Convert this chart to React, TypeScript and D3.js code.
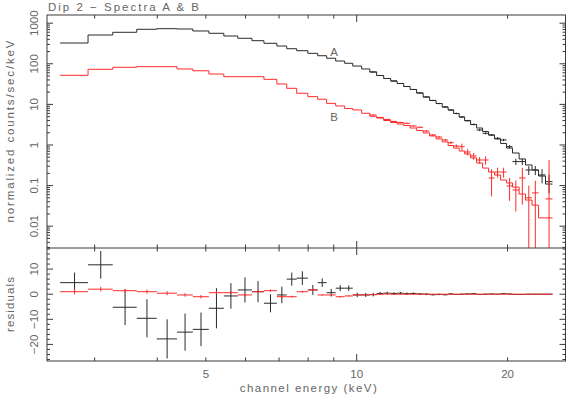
import React, { useEffect, useRef } from "react";
import * as d3 from "d3";

// channel bin edges (keV)
const binEdges = [
  2.56, 2.91, 3.26, 3.64, 3.99, 4.38, 4.71, 5.07, 5.43, 5.79, 6.18, 6.53, 6.93,
  7.25, 7.59, 7.99, 8.36, 8.71, 9.08, 9.46, 9.82, 10.23, 10.62, 10.96, 11.32,
  11.69, 12.04, 12.41, 12.78, 13.17, 13.57, 13.98, 14.4, 14.81, 15.22, 15.61,
  16.01, 16.42, 16.88, 17.35, 17.83, 18.33, 18.84, 19.37, 19.91, 20.46, 21.09,
  21.72, 22.38, 23.06, 23.81, 24.59,
];

// folded model, counts/sec/keV
const modelA = [
  325, 512, 597, 708, 732, 720, 643, 564, 484, 425, 371, 320, 274, 235, 210,
  181, 158, 137, 117, 103, 88, 74.5, 62.8, 51.5, 43.4, 37.7, 32.7, 27.6, 23.3,
  19.1, 15.2, 12.5, 10.5, 8.63, 7.28, 5.97, 4.89, 3.97, 3.2, 2.62, 2.15, 1.76,
  1.41, 1.09, 0.84, 0.635, 0.452, 0.322, 0.242, 0.172, 0.109,
];
const modelB = [
  52.1, 73.2, 82.0, 84.9, 84.9, 74.5, 67.3, 56.0, 48.1, 48.1, 48.1, 41.5, 31.8,
  24.9, 18.8, 15.5, 13.4, 10.6, 9.14, 7.9, 7.3, 6.04, 5.1, 4.62, 4.01, 3.58,
  3.29, 3.02, 2.62, 2.28, 1.98, 1.67, 1.41, 1.19, 0.97, 0.84, 0.71, 0.6, 0.48,
  0.36, 0.27, 0.216, 0.182, 0.137, 0.116, 0.092, 0.062, 0.044, 0.033, 0.016,
  0.016,
];

// data points drawn in the upper panel, from bin 23 on (null = none)
const dataFirstBin = 22;
const dataA = [
  62.8, 51.5, 43.4, 37.7, 32.7, 27.6, 23.3, 19.1, 15.2, 12.5, 10.5, 8.63, 7.28,
  5.97, 4.89, 3.97, 3.2, 2.34, 1.94, 1.76, 1.46, 1.33, 0.908, 0.39, 0.39, 0.242,
  0.242, 0.183, 0.125,
];
const dataAErr = [
  1.5, 1.3, 1.1, 1.0, 0.9, 0.8, 0.7, 0.6, 0.5, 0.45, 0.4, 0.35, 0.3, 0.26, 0.22,
  0.18, 0.16, 0.14, 0.12, 0.1, 0.1, 0.09, 0.09, 0.07, 0.07, 0.06, 0.06, 0.07,
  0.06,
];
const dataB = [
  5.48, 4.76, 4.25, 3.79, 3.58, 3.42, 2.94, 2.73, 2.21, 1.76, 1.57, 1.33, 1.14,
  0.945, 0.908, 0.672, 0.536, 0.427, 0.427, 0.154, 0.216, 0.216, 0.098, 0.078,
  0.154, 0.05, 0.066, null, 0.047,
];
const dataBErr = [
  0.2, 0.18, 0.17, 0.16, 0.15, 0.15, 0.13, 0.13, 0.11, 0.1, 0.1, 0.09, 0.09,
  0.08, 0.17, 0.12, 0.1, 0.08, 0.1, 0.1, 0.06, 0.06, 0.056, 0.055, 0.12, 0.05,
  0.066, null, 0.38,
];

// residuals, counts/sec/keV
const residA = [
  4.6, 11.7, -5.2, -9.6, -17.8, -15.1, -14, -5.6, -0.7, 1.7, 1.0, -3.6, -0.3, 6,
  6.4, 1.7, 4.6, 0.6, 2.4, 2.4, -0.3, -0.3, -0.2, 0.3, 0.4, 0.3, 0.4, 0.2, 0.3,
  0.1, 0, -0.2, -0.1, -0.2, 0.1, -0.1, 0, 0.1, 0.2, -0.1, 0, 0.1, 0, 0.2, 0.1,
  -0.1, -0.1, 0, 0, 0, 0,
];
const residAErr = [
  4, 5.5, 7.1, 7.6, 7.8, 7.4, 6.7, 8, 5.1, 5, 4.2, 3.6, 3.3, 2.6, 2.7, 2, 1.7,
  1.5, 1.2, 1.1, 0.9, 0.8, 0.7, 0.6, 0.6, 0.5, 0.5, 0.5, 0.4, 0.4, 0.4, 0.3,
  0.3, 0.3, 0.3, 0.2, 0.2, 0.2, 0.2, 0.2, 0.2, 0.1, 0.1, 0.1, 0.1, 0.1, 0.1,
  0.1, 0.1, 0.1, 0.1,
];
const residB = [
  1.0, 2.0, 1.4, 1.0, 0.4, -0.3, -1.0, 0.6, 0.6, -0.3, 1.0, 1.4, -1.0, -1.0,
  1.0, 1.7, -0.3, -0.3, -1.0, -0.7, -0.3, -0.2, -0.1, 0, 0.1, 0, 0, 0, 0, 0, 0,
  0, 0, 0, 0, 0, 0, 0, 0, 0, 0, 0, 0, 0, 0, 0, 0, 0, 0, 0, 0,
];
const residBErr = [
  1.0, 0.9, 0.8, 0.8, 0.8, 0.7, 0.7, 0.6, 0.6, 0.6, 0.5, 0.5, 0.5, 0.4, 0.4,
  0.4, 0.3, 0.3, 0.3, 0.3, 0.2, 0.2, 0.2, 0.2, 0.2, 0.1, 0.1, 0.1, 0.1, 0.1,
  0.1, 0.1, 0.1, 0.1, 0.1, 0.1, 0.1, 0.1, 0.1, 0.1, 0.1, 0.1, 0.1, 0.1, 0.1,
  0.1, 0.1, 0.1, 0.1, 0.1, 0.1,
];

const xTicks = [3, 4, 5, 6, 7, 8, 9, 10, 20];
const xMajorTicks = [10];
const xTickLabels = [5, 10, 20];
const yTopTickLabels = [0.01, 0.1, 1, 10, 100, 1000];
const yBotTickLabels = [-20, -10, 0, 10];

const title = "Dip 2 \u2212 Spectra A & B";
const font = "'Liberation Sans', Arial, sans-serif";
const textColor = "#666";
const axisColor = "#3a3a3a";
const colA = "#2a2a2a";
const colB = "#ff2a2a";

export default function App() {
  const ref = useRef<SVGSVGElement>(null);

  useEffect(() => {
    const svg = d3.select(ref.current);
    svg.selectAll("*").remove();

    const left = 47, right = 565.5, top = 15, mid = 248, bottom = 361;

    const x = d3.scaleLog().domain([2.41, 26.1]).range([left, right]);
    const yTop = d3.scaleLog().domain([0.0029, 1592]).range([mid, top]);
    const yBot = d3.scaleLinear().domain([-26.6, 18.4]).range([bottom, mid]);

    const defs = svg.append("defs");
    defs.append("clipPath").attr("id", "clipTop")
      .append("rect").attr("x", left).attr("y", top).attr("width", right - left).attr("height", mid - top);
    defs.append("clipPath").attr("id", "clipBot")
      .append("rect").attr("x", left).attr("y", mid).attr("width", right - left).attr("height", bottom - mid);

    // ---- upper panel: models
    const gTop = svg.append("g").attr("clip-path", "url(#clipTop)");
    const step = d3.line<[number, number]>()
      .x(d => x(d[0]))
      .y(d => yTop(d[1]))
      .curve(d3.curveStepAfter);
    const stepPts = (vals: number[]) =>
      vals.map((v, i) => [binEdges[i], v] as [number, number])
        .concat([[binEdges[vals.length], vals[vals.length - 1]]]);

    gTop.append("path").attr("d", step(stepPts(modelA))).attr("fill", "none")
      .attr("stroke", colA).attr("stroke-width", 1);
    gTop.append("path").attr("d", step(stepPts(modelB))).attr("fill", "none")
      .attr("stroke", colB).attr("stroke-width", 1);

    // crosses helper
    const crosses = (g: any, vals: (number | null)[], errs: (number | null)[], first: number,
      ys: (v: number) => number, color: string, floor: number) => {
      vals.forEach((v, i) => {
        if (v === null) return;
        const e = errs[i] as number;
        const b = first + i;
        const lo = binEdges[b], hi = binEdges[b + 1];
        const c = (lo + hi) / 2;
        g.append("line").attr("x1", x(lo)).attr("x2", x(hi))
          .attr("y1", ys(v)).attr("y2", ys(v))
          .attr("stroke", color).attr("stroke-width", 1);
        g.append("line").attr("x1", x(c)).attr("x2", x(c))
          .attr("y1", ys(v + e)).attr("y2", ys(Math.max(v - e, floor)))
          .attr("stroke", color).attr("stroke-width", 1);
      });
    };

    crosses(gTop, dataA, dataAErr, dataFirstBin, yTop, colA, 0.001);
    crosses(gTop, dataB, dataBErr, dataFirstBin, yTop, colB, 0.001);

    // ---- lower panel: residuals
    const gBot = svg.append("g").attr("clip-path", "url(#clipBot)");
    crosses(gBot, residA, residAErr, 0, yBot, colA, -100);
    crosses(gBot, residB, residBErr, 0, yBot, colB, -100);

    // ---- frames
    const frame = svg.append("g").attr("stroke", axisColor).attr("stroke-width", 1).attr("fill", "none");
    frame.append("rect").attr("x", left).attr("y", top).attr("width", right - left).attr("height", bottom - top);
    frame.append("line").attr("x1", left).attr("x2", right).attr("y1", mid).attr("y2", mid);

    const tick = (x1: number, y1: number, x2: number, y2: number) =>
      frame.append("line").attr("x1", x1).attr("y1", y1).attr("x2", x2).attr("y2", y2);

    // x ticks on all horizontal lines
    xTicks.forEach(t => {
      const len = xMajorTicks.includes(t) ? 7 : 3.5;
      const px = x(t);
      tick(px, top, px, top + len);
      tick(px, mid - len, px, mid);
      tick(px, mid, px, mid + len);
      tick(px, bottom - len, px, bottom);
    });

    // upper y ticks (log)
    for (let d = -3; d <= 3; d++) {
      for (let k = 1; k <= 9; k++) {
        const v = k * Math.pow(10, d);
        const [d0, d1] = yTop.domain();
        if (v < d0 || v > d1) continue;
        const len = k === 1 ? 6 : 3;
        const py = yTop(v);
        tick(left, py, left + len, py);
        tick(right - len, py, right, py);
      }
    }

    // lower y ticks (linear)
    for (let v = -26; v <= 18; v += 2) {
      const len = v % 10 === 0 ? 6 : 3;
      const py = yBot(v);
      tick(left, py, left + len, py);
      tick(right - len, py, right, py);
    }

    // ---- text
    const txt = svg.append("g").attr("fill", textColor).attr("font-family", font).attr("font-size", 11.5);

    xTickLabels.forEach(t => {
      txt.append("text").attr("x", x(t)).attr("y", 377.5).attr("text-anchor", "middle").text(t);
    });
    yTopTickLabels.forEach(t => {
      txt.append("text").attr("transform", `translate(37.5,${yTop(t)}) rotate(-90)`)
        .attr("text-anchor", "middle").text(t);
    });
    yBotTickLabels.forEach(t => {
      txt.append("text").attr("transform", `translate(37.5,${yBot(t)}) rotate(-90)`)
        .attr("text-anchor", "middle").text(t < 0 ? `\u2212${-t}` : `${t}`);
    });

    txt.append("text").attr("x", 48).attr("y", 10.5)
      .attr("textLength", 151).attr("lengthAdjust", "spacing").text(title);
    txt.append("text").attr("x", (left + right) / 2 + 2).attr("y", 392).attr("text-anchor", "middle")
      .attr("textLength", 137).attr("lengthAdjust", "spacing").text("channel energy (keV)");
    txt.append("text").attr("transform", `translate(14,${(top + mid) / 2}) rotate(-90)`)
      .attr("text-anchor", "middle").attr("textLength", 182).attr("lengthAdjust", "spacing")
      .text("normalized counts/sec/keV");
    txt.append("text").attr("transform", `translate(13.5,${(mid + bottom) / 2}) rotate(-90)`)
      .attr("text-anchor", "middle").attr("textLength", 55).attr("lengthAdjust", "spacing")
      .text("residuals");

    txt.append("text").attr("x", 334).attr("y", 55.7).attr("text-anchor", "middle").text("A");
    txt.append("text").attr("x", 334).attr("y", 120.7).attr("text-anchor", "middle").text("B");
  }, []);

  return (
    <svg
      ref={ref}
      width={569}
      height={398}
      style={{ position: "absolute", left: 0, top: 0, background: "#fff" }}
    />
  );
}
